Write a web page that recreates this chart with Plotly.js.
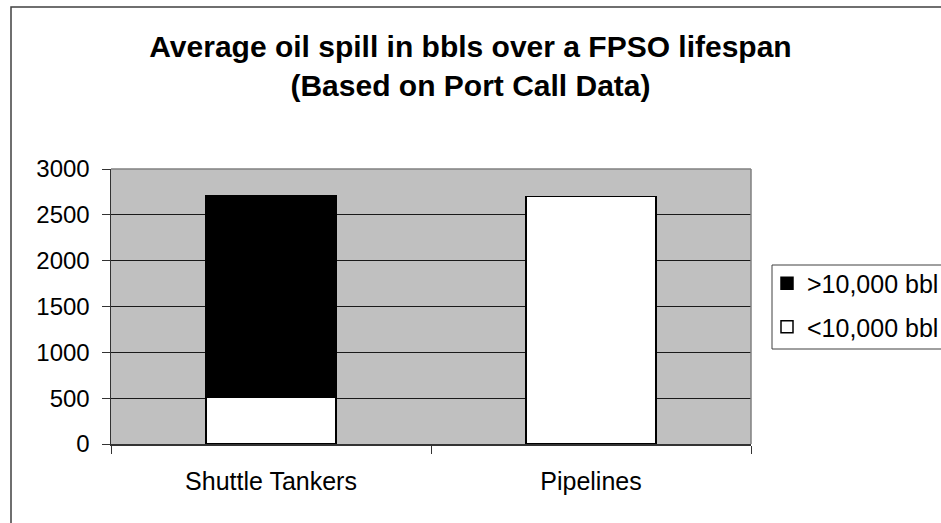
<!DOCTYPE html>
<html>
<head>
<meta charset="utf-8">
<script src="https://cdn.plot.ly/plotly-3.0.1.min.js"></script>
<style>
  html, body { margin: 0; padding: 0; background: #ffffff; }
  #chart { width: 941px; height: 523px; }
</style>
</head>
<body>
<div id="chart"></div>
<script>
// Spill categories and the two size classes, stacked per category
const categories = ['Shuttle Tankers', 'Pipelines'];
const spillsBelow10k = [510, 2700];   // <10,000 bbl
const spillsAbove10k = [2200, null];  // >10,000 bbl
const yTickValues = [0, 500, 1000, 1500, 2000, 2500, 3000];
const seriesNames = ['<10,000 bbl', '>10,000 bbl'];

const FONT = 'Arial, "Liberation Sans", sans-serif';

const traces = [
  {
    type: 'bar',
    name: seriesNames[0],
    x: categories,
    y: spillsBelow10k,
    legendgroup: 'below',
    legendrank: 2,
    marker: { color: '#ffffff', line: { color: '#000000', width: 1.5 } },
    hoverinfo: 'skip'
  },
  {
    type: 'bar',
    name: seriesNames[1],
    x: categories,
    y: spillsAbove10k,
    legendgroup: 'above',
    legendrank: 1,
    marker: { color: '#000000', line: { color: '#000000', width: 1.5 } },
    hoverinfo: 'skip'
  }
];

// plot area spans 111..751 px horizontally, 169..444 px vertically
const px = v => (v - 111) / 640;
const py = v => (444 - v) / 275;

const layout = {
  width: 941,
  height: 523,
  paper_bgcolor: '#ffffff',
  plot_bgcolor: '#c0c0c0',
  barmode: 'stack',
  bargap: 0.595,
  margin: { l: 111, r: 190, t: 169, b: 79, autoexpand: false },
  font: { family: FONT, color: '#000000' },
  title: {
    text: 'Average oil spill in bbls over a FPSO lifespan<br>(Based on Port Call Data)',
    font: { family: FONT, size: 30, weight: 'bold', color: '#000000' },
    xref: 'container',
    x: 0.5,
    xanchor: 'center',
    yref: 'container',
    y: 1 - 57 / 523,
    yanchor: 'top'
  },
  xaxis: {
    type: 'category',
    tickson: 'boundaries',
    ticks: 'outside',
    ticklen: 8,
    tickcolor: '#333333',
    tickwidth: 1,
    showline: true,
    linecolor: '#333333',
    linewidth: 1.5,
    showgrid: false,
    tickfont: { family: FONT, size: 25, color: '#000000' },
    ticklabelstandoff: 14,
    fixedrange: true
  },
  yaxis: {
    range: [0, 3000],
    tickvals: yTickValues,
    ticks: 'outside',
    ticklen: 8,
    tickcolor: '#333333',
    tickwidth: 1,
    showline: true,
    linecolor: '#333333',
    linewidth: 1.5,
    showgrid: true,
    gridcolor: '#1a1a1a',
    gridwidth: 1,
    zeroline: false,
    tickfont: { family: FONT, size: 24, color: '#000000' },
    ticklabelstandoff: 7,
    fixedrange: true
  },
  legend: {
    x: px(767),
    xanchor: 'left',
    y: py(305),
    yanchor: 'middle',
    bgcolor: 'rgba(0,0,0,0)',
    borderwidth: 0,
    traceorder: 'grouped',
    tracegroupgap: 8,
    font: { family: FONT, size: 25, color: '#000000' }
  },
  shapes: [
    // outer chart frame (left and top edges visible)
    {
      type: 'rect', xref: 'paper', yref: 'paper',
      x0: px(11), x1: 1.6, y0: -0.6, y1: py(7),
      line: { color: '#404040', width: 1.5 }, fillcolor: 'rgba(0,0,0,0)', layer: 'above'
    },
    // legend box
    {
      type: 'rect', xref: 'paper', yref: 'paper',
      x0: px(772), x1: px(960), y0: py(349), y1: py(265),
      line: { color: '#404040', width: 1 }, fillcolor: '#ffffff', layer: 'above'
    },
    // plot-area border on the top and right edges
    {
      type: 'line', xref: 'paper', yref: 'paper',
      x0: 0, x1: 1, y0: 1, y1: 1,
      line: { color: '#808080', width: 1.5 }, layer: 'above'
    },
    {
      type: 'line', xref: 'paper', yref: 'paper',
      x0: 1, x1: 1, y0: 0, y1: 1,
      line: { color: '#808080', width: 1.5 }, layer: 'above'
    }
  ]
};

Plotly.newPlot('chart', traces, layout, { displayModeBar: false, staticPlot: true });
</script>
</body>
</html>
